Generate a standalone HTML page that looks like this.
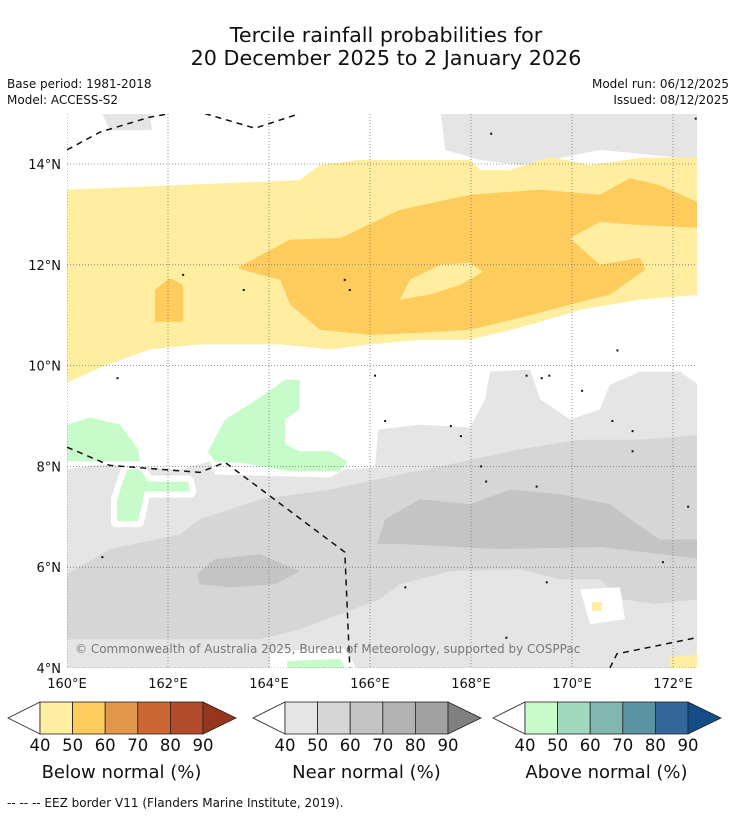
<!DOCTYPE html>
<html><head><meta charset="utf-8"><style>
html,body{margin:0;padding:0;background:#fff;}
svg{display:block;font-family:"DejaVu Sans","Liberation Sans",sans-serif;}
</style></head><body>
<svg id="chart" width="736" height="816" viewBox="0 0 736 816" xmlns="http://www.w3.org/2000/svg">
<rect x="0" y="0" width="736" height="816" fill="#fff"/>
<text x="386" y="42" font-size="20.7" text-anchor="middle" fill="#111">Tercile rainfall probabilities for</text>
<text x="386" y="65" font-size="20.7" text-anchor="middle" fill="#111">20 December 2025 to 2 January 2026</text>
<text x="7" y="88" font-size="12" fill="#111">Base period: 1981-2018</text>
<text x="7" y="104" font-size="12" fill="#111">Model: ACCESS-S2</text>
<text x="729" y="88" font-size="12" text-anchor="end" fill="#111">Model run: 06/12/2025</text>
<text x="729" y="104" font-size="12" text-anchor="end" fill="#111">Issued: 08/12/2025</text>
<defs><clipPath id="mapclip"><rect x="67" y="114" width="630" height="554"/></clipPath></defs>
<g id="map" clip-path="url(#mapclip)"></g>
<g id="axes"></g>
<g id="legends"></g>
<text x="7" y="807" font-size="12" fill="#111">--  --  -- EEZ border V11 (Flanders Marine Institute, 2019).</text>
</svg>
<script>
const lonTicks=[160,162,164,166,168,170,172];
const latTicks=[4,6,8,10,12,14];
const legendTicks=[40,50,60,70,80,90];
const belowColors=["#ffeda0","#fecc5c","#e1964a","#cc6633","#b24b2a","#97361f"];
const nearColors=["#e5e5e5","#d6d6d6","#c4c4c4","#b2b2b2","#a1a1a1","#808080"];
const aboveColors=["#c7fcca","#a1d9be","#80b8af","#5a94a0","#336699","#124d88"];
const legendTitles=["Below normal (%)","Near normal (%)","Above normal (%)"];
const grey40Main=[[160,7.94],[160.65,8.04],[162.24,7.94],[162.83,8.1],[162.93,7.84],[165.21,7.78],[165.5,7.94],[166.1,7.98],[166.16,8.73],[166.99,8.83],[167.98,8.77],[168.28,9.33],[168.38,9.88],[169.17,9.92],[169.37,9.33],[169.96,8.93],[170.55,9.13],[170.75,9.62],[171.35,9.88],[172.14,9.88],[172.5,9.62],[172.5,4.0],[160,4.0]];
const grey40Top=[[167.39,15.1],[172.6,15.1],[172.6,14.08],[170.55,14.28],[169.76,14.12],[168.97,13.98],[168.18,14.08],[167.49,14.28]];
const grey40TopLeft=[[160.65,15.1],[161.64,15.1],[161.68,14.67],[160.85,14.67]];
const yellowBelow=[[160,13.49],[164.61,13.68],[165.0,13.98],[165.8,14.08],[167.98,14.08],[168.18,13.88],[168.77,13.88],[169.56,14.14],[170.36,13.98],[171.35,14.12],[172.6,14.14],[172.6,11.41],[171.35,11.31],[170.16,11.11],[169.17,10.81],[167.98,10.51],[166.99,10.51],[166.0,10.42],[165.21,10.32],[164.22,10.42],[162.63,10.42],[161.64,10.32],[160.65,9.96],[160,9.66]];
const orangeBelow=[[163.37,11.94],[164.42,12.5],[165.41,12.53],[166.59,13.09],[167.98,13.39],[169.37,13.49],[170.55,13.39],[171.15,13.72],[171.74,13.58],[172.6,13.19],[172.6,12.73],[171.35,12.79],[170.55,12.85],[169.96,12.53],[170.55,12.0],[171.35,12.14],[171.45,11.9],[170.75,11.41],[169.96,11.21],[168.97,10.95],[167.98,10.71],[166.99,10.65],[166.0,10.61],[165.01,10.71],[164.42,11.21],[164.22,11.7],[163.62,11.86]];
const yellowIsland=[[166.79,11.7],[167.39,12.0],[167.98,12.04],[168.24,11.86],[167.78,11.6],[167.19,11.41],[166.59,11.31]];
const orangeBlob=[[161.74,11.5],[162.04,11.74],[162.3,11.6],[162.3,10.87],[161.74,10.87]];
const grey50=[[160,5.86],[160.85,6.36],[162.24,6.65],[162.63,6.95],[163.82,7.35],[165.21,7.54],[166.59,7.84],[167.58,8.04],[168.97,8.34],[170.16,8.53],[171.35,8.53],[172.6,8.63],[172.6,5.37],[171.64,5.27],[170.95,5.37],[170.55,5.76],[169.76,5.76],[168.97,5.96],[167.58,5.92],[166.59,5.66],[166.2,5.37],[165.41,5.07],[164.61,4.77],[163.82,4.57],[160,4.57]];
const grey60a=[[166.14,6.46],[166.3,6.95],[166.99,7.35],[167.98,7.25],[168.77,7.54],[169.76,7.45],[170.75,7.25],[171.15,6.95],[171.74,6.55],[172.6,6.55],[172.6,6.16],[170.55,6.4],[168.57,6.36],[166.59,6.46]];
const grey60b=[[162.57,5.86],[162.93,6.16],[163.82,6.26],[164.61,5.92],[164.12,5.66],[163.23,5.6],[162.63,5.66]];
const green1=[[160,8.83],[160.46,8.97],[161.05,8.83],[161.41,8.34],[161.45,8.1],[160,8.1]];
const green2=[[161.19,7.94],[161.45,7.94],[161.6,7.7],[162.4,7.7],[162.44,7.5],[161.54,7.5],[161.41,6.91],[160.99,6.91],[160.99,7.35]];
const green3=[[162.79,8.3],[163.13,8.93],[163.82,9.37],[164.32,9.72],[164.61,9.72],[164.61,9.13],[164.32,8.93],[164.32,8.44],[164.61,8.3],[165.21,8.3],[165.56,8.1],[165.41,7.9],[164.42,7.9],[163.52,8.06],[162.92,8.1]];
const whitePatch=[[170.16,5.56],[170.95,5.6],[171.05,4.97],[170.36,4.87]];
const yellowSquare=[[170.4,5.31],[170.59,5.31],[170.59,5.13],[170.4,5.13]];
const whiteBottom=[[164.02,4.34],[165.5,4.38],[165.8,3.9],[164.02,3.9]];
const greenBottom=[[164.36,4.14],[165.41,4.18],[165.56,3.9],[164.36,3.9]];
const yellowBottomRight=[[171.94,4.22],[172.6,4.28],[172.6,3.9],[171.94,3.9]];
const eez1=[[160,14.28],[160.65,14.63],[161.64,14.93],[162.04,15.0]];
const eez2=[[162.73,15.0],[163.72,14.71],[164.61,15.0]];
const eez3=[[160,8.38],[160.85,8.02],[162.63,7.88],[163.13,8.08],[165.5,6.3],[165.6,4.0]];
const eez4=[[170.75,4.0],[170.89,4.28],[172.5,4.61]];
const specks=[[162.3,11.8],[163.5,11.5],[165.5,11.7],[165.6,11.5],[166.1,9.8],[161.0,9.75],[166.3,8.9],[167.6,8.8],[167.8,8.6],[169.1,9.8],[169.4,9.75],[169.55,9.8],[170.2,9.5],[170.9,10.3],[170.8,8.9],[171.2,8.7],[171.2,8.3],[172.3,7.2],[168.2,8.0],[168.3,7.7],[169.3,7.6],[169.5,5.7],[166.7,5.6],[171.8,6.1],[160.7,6.2],[168.4,14.6],[172.45,14.9],[168.7,4.6]];

const X=lon=>67+(lon-160)*50.5;
const Y=lat=>164+(14-lat)*50.4;
const NS="http://www.w3.org/2000/svg";
const map=document.getElementById('map');
const axes=document.getElementById('axes');
const legends=document.getElementById('legends');
function mk(tag,parent){const e=document.createElementNS(NS,tag);parent.appendChild(e);return e;}
function pts(ring){return ring.map(p=>X(p[0]).toFixed(1)+','+Y(p[1]).toFixed(1)).join(' ');}
function poly(ring,fill,name,stroke){
  const e=mk('polygon',map);
  e.setAttribute('points',pts(ring));
  e.setAttribute('fill',fill);
  if(stroke){e.setAttribute('stroke',stroke);e.setAttribute('stroke-width','12');e.setAttribute('stroke-linejoin','round');}
  
  
  return e;
}
poly(grey40Main,nearColors[0],'near-normal-40-main');
poly(grey40Top,nearColors[0],'near-normal-40-top');
poly(grey40TopLeft,nearColors[0],'near-normal-40-top-left');
poly(yellowBelow,belowColors[0],'below-normal-40');
poly(orangeBelow,belowColors[1],'below-normal-50');
poly(yellowIsland,belowColors[0],'below-normal-40-island');
poly(orangeBlob,belowColors[1],'below-normal-50-blob');
poly(grey50,nearColors[1],'near-normal-50');
poly(grey60a,nearColors[2],'near-normal-60-east');
poly(grey60b,nearColors[2],'near-normal-60-west');
poly(green1,aboveColors[0],'above-normal-40-west');
poly(green2,'#fff','above-normal-halo','#fff');
poly(green2,aboveColors[0],'above-normal-40-south');
poly(green3,aboveColors[0],'above-normal-40-central');
poly(whitePatch,'#fff','white-patch');
poly(yellowSquare,belowColors[0],'below-normal-40-square');
poly(whiteBottom,'#fff','white-bottom');
poly(greenBottom,aboveColors[0],'above-normal-40-bottom');
poly(yellowBottomRight,belowColors[0],'below-normal-40-bottom-right');
lonTicks.forEach(l=>{
  const g=mk('line',map);
  g.setAttribute('x1',X(l));g.setAttribute('x2',X(l));g.setAttribute('y1',114);g.setAttribute('y2',668);
  g.setAttribute('stroke','#777');g.setAttribute('stroke-width','0.8');g.setAttribute('stroke-dasharray','1,2');
  
  
  const t=mk('text',axes);
  t.textContent=l+'°E';
  t.setAttribute('x',X(l));t.setAttribute('y',688);t.setAttribute('font-size','13');t.setAttribute('text-anchor','middle');t.setAttribute('fill','#111');
  
  
});
latTicks.forEach(l=>{
  const g=mk('line',map);
  g.setAttribute('x1',67);g.setAttribute('x2',697);g.setAttribute('y1',Y(l));g.setAttribute('y2',Y(l));
  g.setAttribute('stroke','#777');g.setAttribute('stroke-width','0.8');g.setAttribute('stroke-dasharray','1,2');
  
  
  const t=mk('text',axes);
  t.textContent=l+'°N';
  t.setAttribute('x',61);t.setAttribute('y',Y(l)+5);t.setAttribute('font-size','13');t.setAttribute('text-anchor','end');t.setAttribute('fill','#111');
  
  
});
[eez1,eez2,eez3,eez4].forEach((r,i)=>{
  const e=mk('polyline',map);
  e.setAttribute('points',pts(r));e.setAttribute('fill','none');e.setAttribute('stroke','#111');
  e.setAttribute('stroke-width','1.5');e.setAttribute('stroke-dasharray','6,5');
  
  
});
specks.forEach((p,i)=>{
  const e=mk('rect',map);
  e.setAttribute('x',X(p[0])-1);e.setAttribute('y',Y(p[1])-1);e.setAttribute('width',2);e.setAttribute('height',2);e.setAttribute('fill','#111');
  
  
});
const cr=mk('text',map);
cr.textContent='© Commonwealth of Australia 2025, Bureau of Meteorology, supported by COSPPac';
cr.setAttribute('x',75);cr.setAttribute('y',653);cr.setAttribute('font-size','12');cr.setAttribute('fill','#777');


const legendStarts=[40,285,525];
legendStarts.forEach((x0,k)=>{
  const cols=[belowColors,nearColors,aboveColors][k];
  const w=32.6, y0=702, h=32;
  const g=mk('g',legends);
  
  
  const lt=mk('polygon',g);
  lt.setAttribute('points',`${x0},${y0} ${x0-32},${y0+h/2} ${x0},${y0+h}`);
  lt.setAttribute('fill','#fff');lt.setAttribute('stroke','#222');lt.setAttribute('stroke-width','0.8');
  for(let i=0;i<5;i++){
    const r=mk('rect',g);
    r.setAttribute('x',x0+i*w);r.setAttribute('y',y0);r.setAttribute('width',w);r.setAttribute('height',h);
    r.setAttribute('fill',cols[i]);r.setAttribute('stroke','#222');r.setAttribute('stroke-width','0.8');
  }
  const rt=mk('polygon',g);
  rt.setAttribute('points',`${x0+5*w},${y0} ${x0+5*w+33},${y0+h/2} ${x0+5*w},${y0+h}`);
  rt.setAttribute('fill',cols[5]);rt.setAttribute('stroke','#222');rt.setAttribute('stroke-width','0.8');
  legendTicks.forEach((v,i)=>{
    const t=mk('text',g);
    t.textContent=v;
    t.setAttribute('x',x0+i*w);t.setAttribute('y',751);t.setAttribute('font-size','16.5');t.setAttribute('text-anchor','middle');t.setAttribute('fill','#111');
    
    
  });
  const tt=mk('text',g);
  tt.textContent=legendTitles[k];
  tt.setAttribute('x',x0+2.5*w);tt.setAttribute('y',778);tt.setAttribute('font-size','18');tt.setAttribute('text-anchor','middle');tt.setAttribute('fill','#111');
  
  
});
</script>
</body></html>
